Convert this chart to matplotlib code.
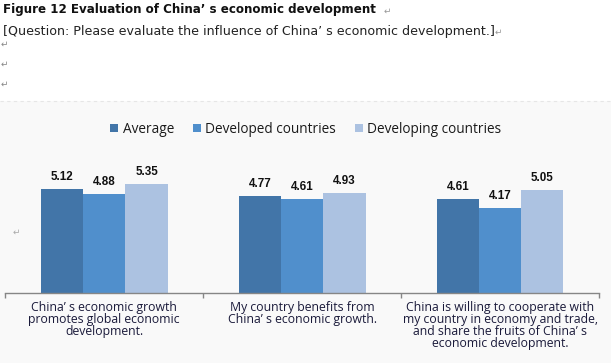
import matplotlib
matplotlib.use("Agg")
import matplotlib.pyplot as plt
from matplotlib.patches import Rectangle
from matplotlib.lines import Line2D

# ---- data ----
categories = [
    "China\u2019 s economic growth\npromotes global economic\ndevelopment.",
    "My country benefits from\nChina\u2019 s economic growth.",
    "China is willing to cooperate with\nmy country in economy and trade,\nand share the fruits of China\u2019 s\neconomic development.",
]
series_names = ["Average", "Developed countries", "Developing countries"]
average = [5.12, 4.77, 4.61]
developed = [4.88, 4.61, 4.17]
developing = [5.35, 4.93, 5.05]
colors = ["#4275A8", "#508FCC", "#ACC2E1"]

title = "Figure 12 Evaluation of China\u2019 s economic development"
question = "[Question: Please evaluate the influence of China\u2019 s economic development.]"

W, H = 611, 363
fig = plt.figure(figsize=(W / 100, H / 100), dpi=100)
fig.patch.set_facecolor("white")

def fx(px):
    return px / W

def fy(py):
    return 1 - py / H

def pt(px):
    return px * 0.72

# chart area background
fig.patches.append(Rectangle((0, 0), 1, fy(101), transform=fig.transFigure,
                             facecolor="#F9F9F9", edgecolor="none", zorder=-5))
fig.lines.append(Line2D([0, 1], [fy(101), fy(101)], transform=fig.transFigure,
                        color="#E6E6E6", lw=0.8, ls=(0, (3, 3)), zorder=-4))

# document text
fig.text(fx(3), fy(10), title, fontsize=pt(11.9), fontweight="bold",
         family="DejaVu Sans", va="center", ha="left", color="#111111")
fig.text(fx(384), fy(11), "\u21b5", fontsize=pt(9), family="DejaVu Sans",
         va="center", ha="left", color="#999999")
fig.text(fx(3), fy(31), question, fontsize=pt(12.6), family="DejaVu Sans",
         va="center", ha="left", color="#222222")
fig.text(fx(495), fy(32), "\u21b5", fontsize=pt(9), family="DejaVu Sans",
         va="center", ha="left", color="#999999")
for yy in (44, 64, 84):
    fig.text(fx(1), fy(yy), "\u21b5", fontsize=pt(9), family="DejaVu Sans",
             va="center", ha="left", color="#888888")
fig.text(fx(13), fy(232), "\u21b5", fontsize=pt(9), family="DejaVu Sans",
         va="center", ha="left", color="#AAAAAA")

# axes
ax_left, ax_right = 5.3, 599
ax_bottom = 293.3
ymax = 7.0
ppu = 20.4
ax_top = ax_bottom - ymax * ppu
ax = fig.add_axes([fx(ax_left), fy(ax_bottom), fx(ax_right - ax_left),
                   (ax_bottom - ax_top) / H])
ax.set_facecolor("none")
ax.set_zorder(2)

x = list(range(len(categories)))
bw = 0.2135
series = [average, developed, developing]
handles = []
for i, (vals, c, name) in enumerate(zip(series, colors, series_names)):
    xs = [xi + (i - 1) * bw for xi in x]
    bars = ax.bar(xs, vals, width=bw, color=c, label=name, zorder=2)
    handles.append(bars)
    for b, v in zip(bars, vals):
        ax.annotate(f"{v:.2f}", (b.get_x() + b.get_width() / 2, v),
                    xytext=(0, pt(9)), textcoords="offset points",
                    ha="center", va="baseline", fontsize=pt(11.6),
                    fontweight="bold", family="Liberation Sans", color="#111111")

ax.set_xlim(-0.5, len(categories) - 0.5)
ax.set_ylim(0, ymax)
for s in ("top", "left", "right"):
    ax.spines[s].set_visible(False)
ax.spines["bottom"].set_color("#868686")
ax.spines["bottom"].set_linewidth(1.0)
ax.set_yticks([])

ax.set_xticks(x)
ax.set_xticklabels(categories, fontsize=pt(12.3), family="Open Sans",
                   color="#1a1a3a", linespacing=0.9)
ax.tick_params(axis="x", which="major", length=0, pad=pt(8))
ax.set_xticks([-0.5, 0.5, 1.5, 2.5], minor=True)
ax.tick_params(axis="x", which="minor", length=pt(4.5), width=1.0,
               color="#868686", direction="out")

# legend
leg = fig.legend(handles=handles, labels=series_names, loc="center",
                 bbox_to_anchor=(fx(306), fy(129.3)), ncol=3, frameon=False,
                 prop={"family": "Open Sans", "size": pt(13.6)},
                 handlelength=0.59, handleheight=0.59, handletextpad=0.3,
                 columnspacing=1.42, borderpad=0, borderaxespad=0)
for t in leg.get_texts():
    t.set_color("#1a1a1a")

fig.savefig("out.png", dpi=100, facecolor=fig.get_facecolor())
